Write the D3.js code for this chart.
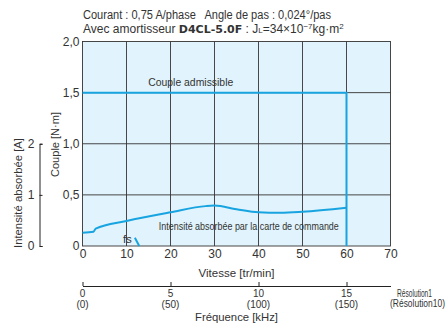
<!DOCTYPE html>
<html>
<head>
<meta charset="utf-8">
<script src="https://cdn.jsdelivr.net/npm/d3@7"></script>
<style>
body { margin: 0; background: #fff; }
text { font-family: "Liberation Sans Narrow", "Arial Narrow", "Liberation Sans", sans-serif; font-weight: normal; fill: #333; white-space: pre; }
</style>
</head>
<body>
<div id="wrapper"></div>
<script>
// speed [tr/min] vs torque [N·m]
const speedTicks = [0, 10, 20, 30, 40, 50, 60, 70];
const torqueTicks = [0, 0.5, 1.0, 1.5, 2.0];
const couplePts = [[0, 1.5], [60, 1.5], [60, 0]];
// current drawn by driver [A]
const currentSpeed = [0, 2.5, 3, 10, 20, 28, 30, 35, 40, 45, 50, 60];
const currentAmp   = [0.26, 0.28, 0.34, 0.49, 0.66, 0.78, 0.79, 0.72, 0.66, 0.65, 0.67, 0.75];
const currentTicks = [0, 1, 2];
// fs segment
const fsPts = [[11.9, 0.08], [12.9, 0]];
// pulse frequency axis [kHz]
const freqTicks = [0, 5, 10, 15];
const freqRes10 = ["(0)", "(50)", "(100)", "(150)"];

function build() {
    const dimension = {width: 447, height: 331};

    const svg = d3.select("#wrapper").append("svg")
        .attr("width", dimension.width)
        .attr("height", dimension.height);

    const x = d3.scaleLinear().domain([0, 70]).range([82.5, 390.5]);
    const y = d3.scaleLinear().domain([0, 2]).range([246, 41.5]);
    const yA = d3.scaleLinear().domain([0, 2]).range([246, y(1)]);
    const xf = d3.scaleLinear().domain([0, 17.5]).range([82.5, 390.5]);

    const fmt = d => d === 0 ? "0" : d3.format(".1f")(d).replace(".", ",");

    // squeeze a label to the width it has in the original (condensed type)
    function label(tx, ty, str, size, len, rot) {
        const t = svg.append("text")
            .attr("text-anchor", "middle")
            .style("font-size", size + "px")
            .text(str);
        if (rot) t.attr("transform", `translate(${tx},${ty}) rotate(-90)`);
        else t.attr("x", tx).attr("y", ty);
        if (len) t.attr("textLength", len).attr("lengthAdjust", "spacingAndGlyphs");
        return t;
    }
    // same idea, by scaling, for the texts at the right edge
    function squeezed(tx, ty, str, size, len) {
        const t = svg.append("text")
            .attr("text-anchor", "middle")
            .style("font-size", size + "px")
            .text(str);
        const k = Math.min(1, len / t.node().getComputedTextLength());
        t.attr("transform", `translate(${tx},${ty}) scale(${k},1)`);
        return t;
    }

    // plot background
    svg.append("rect")
        .attr("x", x(0)).attr("y", y(2))
        .attr("width", x(70) - x(0)).attr("height", y(0) - y(2))
        .attr("fill", "#e1f3fc");

    // grid
    svg.append("g").selectAll("line")
        .data(speedTicks.slice(1, -1))
        .enter().append("line")
        .attr("x1", d => x(d)).attr("x2", d => x(d))
        .attr("y1", y(0)).attr("y2", y(2))
        .attr("stroke", "#333").attr("stroke-width", 0.9);
    svg.append("g").selectAll("line")
        .data(torqueTicks.slice(1, -1))
        .enter().append("line")
        .attr("x1", x(0)).attr("x2", x(70))
        .attr("y1", d => y(d)).attr("y2", d => y(d))
        .attr("stroke", "#333").attr("stroke-width", 0.9);
    svg.append("rect")
        .attr("x", x(0)).attr("y", y(2))
        .attr("width", x(70) - x(0)).attr("height", y(0) - y(2))
        .attr("fill", "none").attr("stroke", "#333").attr("stroke-width", 0.9);

    // axes labels
    const xAxis = svg.append("g")
        .attr("transform", `translate(0,${y(0)})`)
        .call(d3.axisBottom(x).tickValues(speedTicks).tickSize(0).tickPadding(3));
    xAxis.select(".domain").remove();
    xAxis.selectAll("text").style("font-size", "12px");

    const yAxis = svg.append("g")
        .attr("transform", `translate(${x(0)},0)`)
        .call(d3.axisLeft(y).tickValues(torqueTicks).tickFormat(fmt).tickSize(0).tickPadding(3));
    yAxis.select(".domain").remove();
    yAxis.selectAll("text").style("font-size", "12px");

    // current axis
    const aAxis = svg.append("g")
        .attr("transform", "translate(39.5,0)")
        .call(d3.axisLeft(yA).tickValues(currentTicks).tickFormat(d3.format("d"))
            .tickSizeInner(-3).tickSizeOuter(-3).tickPadding(5));
    aAxis.selectAll("path, line").attr("stroke", "#222");
    aAxis.selectAll("text").style("font-size", "12px");

    label(59, 144.5, "Couple [N·m]", 11.5, 65, true);
    label(22, 193, "Intensité absorbée [A]", 11.5, 110, true);

    // couple admissible
    const line = d3.line().x(d => x(d[0])).y(d => y(d[1]));
    svg.append("path")
        .attr("d", line(couplePts))
        .attr("fill", "none").attr("stroke", "#18a4e0").attr("stroke-width", 2);
    label(x(24.6), y(1.56), "Couple admissible", 11.5, 85);

    // current curve
    const cur = currentSpeed.map((s, i) => [s, currentAmp[i]]);
    const lineA = d3.line().x(d => x(d[0])).y(d => yA(d[1])).curve(d3.curveMonotoneX);
    svg.append("path")
        .attr("d", lineA(cur))
        .attr("fill", "none").attr("stroke", "#18a4e0").attr("stroke-width", 2);
    label(x(37.8), y(0.156), "Intensité absorbée par la carte de commande", 11, 180);

    // fs
    svg.append("path")
        .attr("d", line(fsPts))
        .attr("fill", "none").attr("stroke", "#18a4e0").attr("stroke-width", 2);
    label(x(10.2), y(0.025), "fs", 11.5);

    label(x(35), 277, "Vitesse [tr/min]", 11.5, 76);

    // frequency axis
    const fAxis = svg.append("g")
        .attr("transform", "translate(0,286)")
        .call(d3.axisBottom(xf).tickValues(freqTicks).tickSizeInner(-4).tickSizeOuter(0).tickFormat(""));
    fAxis.selectAll("path, line").attr("stroke", "#222");
    svg.append("g").selectAll("text")
        .data(freqTicks)
        .enter().append("text")
        .attr("x", d => xf(d)).attr("y", 297)
        .attr("text-anchor", "middle").style("font-size", "10px")
        .text(d => d);
    svg.append("g").selectAll("text")
        .data(freqRes10)
        .enter().append("text")
        .attr("x", (d, i) => xf(freqTicks[i])).attr("y", 308)
        .attr("text-anchor", "middle").style("font-size", "10px")
        .text(d => d);
    squeezed(414.5, 296.5, "Résolution1", 10, 35);
    squeezed(417.5, 307, "(Résolution10)", 10, 55);
    label(x(35), 321, "Fréquence [kHz]", 11.5, 83);

    // title
    svg.append("text")
        .attr("x", 83).attr("y", 19).style("font-size", "12px")
        .attr("textLength", 248).attr("lengthAdjust", "spacingAndGlyphs")
        .text("Courant : 0,75 A/phase   Angle de pas : 0,024°/pas");
    const t2 = svg.append("text")
        .attr("x", 83).attr("y", 33).style("font-size", "12px");
    t2.append("tspan").text("Avec amortisseur ");
    t2.append("tspan").style("font-family", "'DejaVu Sans', sans-serif").style("font-weight", "bold").style("font-size", "11px").text("D4CL-5.0F");
    t2.append("tspan").text(" : J");
    t2.append("tspan").style("font-size", "8px").text("L");
    t2.append("tspan").text("=34×10");
    t2.append("tspan").attr("dy", -4).style("font-size", "8px").text("−7");
    t2.append("tspan").attr("dy", 4).text("kg·m");
    t2.append("tspan").attr("dy", -4).style("font-size", "8px").text("2");
}
build();
</script>
</body>
</html>
